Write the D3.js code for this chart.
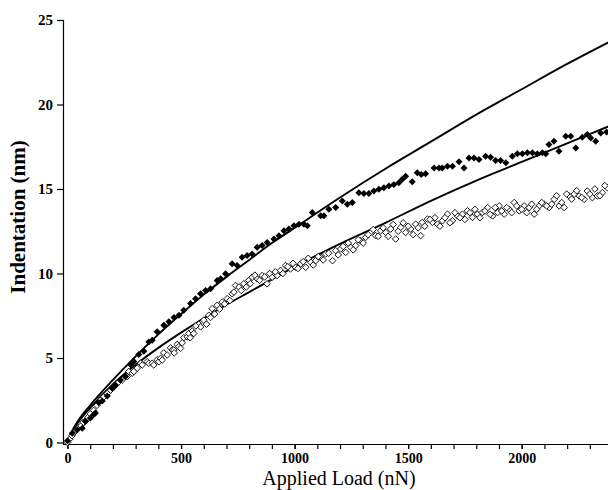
<!DOCTYPE html>
<html lang="en">

<head>
   <meta charset="UTF-8">
   <title>Indentation vs applied load</title>
   <script src="https://d3js.org/d3.v7.min.js"></script>
   <style>
      body { margin: 0; background: #fff; }
      text { font-family: 'Liberation Serif', 'DejaVu Serif', serif; fill: #000; }
   </style>
</head>

<body>
   <script>

      // fitted curves
      const fitLoad = [0, 25, 50, 100, 200, 300, 400, 500, 600, 700, 800, 900, 1000, 1200, 1400, 1600, 1800, 2000, 2200, 2400];
      const fitUpper = [0, 0.8, 1.35, 2.2, 3.7, 5.1, 6.4, 7.6, 8.75, 9.8, 10.8, 11.8, 12.7, 14.5, 16.2, 17.8, 19.4, 20.9, 22.4, 23.8];
      const fitLower = [0, 0.75, 1.25, 2.05, 3.45, 4.6, 5.6, 6.5, 7.35, 8.15, 8.9, 9.65, 10.4, 11.75, 13.0, 14.3, 15.5, 16.6, 17.7, 18.8];

      // filled diamonds
      const filledLoad = [0, 21, 43, 65, 79, 101, 116, 123, 138, 153, 175, 197, 211, 233, 256, 278, 292, 314, 336, 358, 373, 395,
         424, 446, 469, 491, 512, 542, 564, 586, 608, 630, 659, 674, 696, 725, 747, 769, 791, 813, 835, 857, 879,
         909, 931, 953, 975, 997, 1019, 1041, 1056, 1078, 1115, 1129, 1151, 1181, 1210, 1232, 1254, 1283, 1305, 1327, 1349, 1371, 1393, 1415, 1437, 1459,
         1474, 1489, 1518, 1540, 1558, 1577, 1614, 1636, 1650, 1673, 1695, 1724, 1746, 1768, 1790, 1812, 1841, 1863, 1885, 1907,
         1930, 1959, 1981, 2003, 2025, 2047, 2069, 2091, 2106, 2120, 2142, 2164, 2194, 2216, 2238, 2267, 2289, 2304, 2326, 2348, 2374];
      const filledDepth = [0.1, 0.55, 0.75, 0.85, 1.25, 1.45, 1.65, 1.75, 2.35, 2.45, 2.75, 3.2, 3.4, 3.7, 3.9, 4.6, 4.8, 5.2, 5.4, 5.95, 6.05, 6.55,
         6.94, 7.14, 7.39, 7.53, 7.82, 8.22, 8.51, 8.8, 9.0, 9.1, 9.59, 9.69, 9.98, 10.57, 10.47, 10.96, 11.06, 11.16, 11.55, 11.65, 11.84,
         12.04, 12.24, 12.53, 12.63, 12.82, 12.92, 12.92, 12.82, 13.61, 13.41, 13.41, 13.8, 13.9, 14.29, 14.1, 14.2, 14.78, 14.74, 14.74, 14.88, 14.98, 15.08, 15.18, 15.27, 15.37,
         15.57, 15.76, 15.43, 15.96, 15.86, 15.9, 16.25, 16.25, 16.25, 16.35, 16.35, 16.61, 16.25, 16.84, 16.84, 16.75, 16.94, 16.88, 16.69, 16.69,
         16.55, 16.94, 17.08, 17.08, 17.14, 17.14, 17.08, 17.14, 17.08, 17.63, 17.82, 17.24, 18.12, 18.12, 17.43, 18.06, 18.22, 18.02, 17.82, 18.31, 18.37];

      // open diamonds
      const openLoad = [0, 10, 20, 30, 40, 50, 60, 70, 80, 90, 100, 115, 130, 145, 160, 175, 190, 205, 220, 241,
         263, 270, 285, 292, 307, 322, 329, 351, 358, 373, 380, 395, 402, 410, 417, 424, 439, 454, 461, 468, 483, 490, 498, 512, 527, 534, 549, 556, 578, 586,
         600, 622, 637, 659, 681, 703, 725, 740, 755, 776, 798, 813, 835, 857, 879, 901, 923,
         938, 960, 982, 1004, 1027, 1049, 1071, 1093, 1115, 1137, 1167, 1181, 1203, 1225, 1247, 1269, 1291, 1313, 1335, 1357, 1379, 1401, 1423, 1445, 1467,
         1489, 1511, 1533, 1555, 1562, 1585, 1607, 1629, 1651, 1673, 1695, 1717, 1739, 1761, 1783, 1805, 1827, 1850, 1872, 1894, 1901, 1923, 1945, 1967, 1989,
         2011, 2033, 2055, 2077, 2099, 2121, 2143, 2165, 2187, 2209, 2231, 2253, 2275, 2289, 2311, 2333, 2355, 2377,
         470, 505, 540, 565, 612, 630, 648, 670, 692, 715, 733, 765, 787, 805, 825, 846, 868, 890, 915, 948, 970, 993,
         1015, 1038, 1060, 1082, 1104, 1126, 1150, 1192, 1214, 1236, 1258, 1280, 1302, 1324, 1346, 1368, 1390, 1412, 1434, 1456, 1478, 1500,
         1522, 1544, 1573, 1596, 1618, 1640, 1662, 1684, 1706, 1728, 1750, 1772, 1794, 1816, 1838, 1861, 1883, 1912, 1934, 1956, 1978, 2000,
         2022, 2044, 2066, 2088, 2110, 2132, 2154, 2176, 2198, 2220, 2242, 2264, 2300, 2322, 2344, 2366];
      const openDepth = [0, 0.2, 0.4, 0.6, 0.75, 0.9, 1.0, 1.2, 1.3, 1.5, 1.7, 1.9, 2.2, 2.5, 2.7, 2.9, 3.1, 3.3, 3.5, 3.7,
         3.9, 4.2, 4.1, 4.2, 4.4, 4.69, 4.59, 4.78, 4.69, 4.69, 4.59, 4.9, 4.78, 4.98, 4.88, 5.3, 5.18, 5.6, 5.47, 5.47, 5.8, 5.67, 5.57, 6.2, 6.25, 6.45, 6.6, 6.45, 7.0, 6.84,
         7.24, 7.53, 7.92, 8.12, 8.31, 8.51, 8.8, 9.29, 9.2, 9.39, 9.59, 9.78, 9.69, 9.88, 9.39, 9.78, 9.88,
         10.18, 10.47, 10.27, 10.37, 10.57, 10.37, 10.67, 10.76, 10.96, 11.16, 10.76, 11.35, 11.45, 11.25, 11.55, 11.65, 11.94, 12.14, 12.43, 12.24, 12.53, 12.43, 12.63, 12.04, 12.73,
         12.43, 12.63, 12.92, 12.24, 13.02, 13.22, 13.02, 12.92, 13.12, 13.51, 13.12, 13.41, 13.51, 13.71, 13.32, 13.51, 13.61, 13.9, 13.41, 13.61, 14.0, 13.51, 13.8, 14.2, 13.71,
         14.0, 13.9, 13.51, 14.0, 14.1, 13.9, 14.39, 14.0, 13.9, 14.59, 14.69, 14.59, 14.39, 14.88, 14.49, 14.59, 14.78, 15.08,
         5.3, 5.9, 6.2, 6.9, 7.0, 7.4, 7.6, 7.9, 8.2, 8.4, 8.9, 9.0, 9.2, 9.4, 9.9, 9.6, 9.8, 10.0, 10.1, 10.0, 10.4, 10.6,
         10.3, 10.7, 10.9, 10.5, 11.0, 10.8, 11.2, 11.1, 11.6, 11.8, 11.4, 12.0, 11.8, 12.3, 12.6, 12.2, 12.7, 12.2, 12.9, 12.5, 13.0, 12.8,
         12.3, 12.7, 12.8, 13.2, 13.3, 12.8, 13.3, 13.0, 13.6, 13.3, 13.2, 13.6, 13.8, 13.3, 13.7, 13.5, 13.9, 13.7, 13.9, 13.6, 14.0, 13.8,
         13.6, 14.1, 13.8, 14.2, 14.0, 14.1, 14.6, 14.2, 14.7, 14.4, 14.9, 14.5, 14.7, 15.0, 14.6, 15.2];

      const xTicks = [0, 500, 1000, 1500, 2000];
      const yTicks = [0, 5, 10, 15, 20, 25];

      const width = 608, height = 490;

      const canvas = d3.select('body').append('svg').attr('width', width).attr('height', height);

      const x = d3.scaleLinear().domain([0, 2380]).range([67.5, 608]);
      const y = d3.scaleLinear().domain([0, 25]).range([442.5, 20]);

      // axes: minor ticks every 100 nN, labels every 500
      const xMinor = d3.axisBottom(x).tickValues(d3.range(0, 2401, 100)).tickSize(5).tickFormat('');
      const gx = canvas.append('g').attr('transform', 'translate(0,444)').call(xMinor);
      gx.select('.domain').attr('d', 'M63,0.5H608');

      const xLabels = d3.axisBottom(x).tickValues(xTicks).tickSize(5).tickPadding(2).tickFormat(d3.format('d'));
      const gxl = canvas.append('g').attr('transform', 'translate(0,444)').call(xLabels);
      gxl.select('.domain').remove();

      const yAxis = d3.axisLeft(y).tickValues(yTicks).tickSize(6).tickFormat(d3.format('d'));
      const gy = canvas.append('g').attr('transform', 'translate(63,0)').call(yAxis);
      gy.select('.domain').attr('d', 'M0.5,20V444');

      canvas.selectAll('.tick text')
         .attr('font-family', "'Liberation Serif', serif")
         .attr('font-weight', 'bold')
         .attr('font-size', '15px')
         .attr('fill', '#000');
      gxl.selectAll('.tick text').attr('font-size', '14px').attr('dy', '0.85em');
      gy.selectAll('.tick text').attr('x', -10);
      canvas.selectAll('.domain, .tick line').attr('stroke', '#000').attr('stroke-width', 1.2);

      // titles
      canvas.append('text')
         .attr('x', 339).attr('y', 485)
         .attr('text-anchor', 'middle')
         .attr('font-size', '20px')
         .text('Applied Load (nN)');

      canvas.append('text')
         .attr('transform', 'translate(25,217) rotate(-90)')
         .attr('text-anchor', 'middle')
         .attr('font-size', '21px')
         .attr('font-weight', 'bold')
         .text('Indentation (nm)');

      const plot = canvas.append('g');

      const line = d3.line().x(d => x(d[0])).y(d => y(d[1])).curve(d3.curveMonotoneX);

      [fitUpper, fitLower].forEach(fit => {
         plot.append('path')
            .attr('d', line(fitLoad.map((l, i) => [l, fit[i]])))
            .attr('fill', 'none')
            .attr('stroke', '#000')
            .attr('stroke-width', 1.9);
      });

      const diamond = r => `M0,${-r}L${r},0L0,${r}L${-r},0Z`;

      plot.selectAll('.open')
         .data(openLoad.map((l, i) => [l, openDepth[i]]))
         .enter()
         .append('path')
         .attr('class', 'open')
         .attr('transform', d => `translate(${x(d[0])},${y(d[1])})`)
         .attr('d', diamond(3.3))
         .attr('fill', '#fff')
         .attr('stroke', '#000')
         .attr('stroke-width', 0.9);

      plot.selectAll('.filled')
         .data(filledLoad.map((l, i) => [l, filledDepth[i]]))
         .enter()
         .append('path')
         .attr('class', 'filled')
         .attr('transform', d => `translate(${x(d[0])},${y(d[1])})`)
         .attr('d', diamond(3.5))
         .attr('fill', '#000');

   </script>
</body>

</html>
